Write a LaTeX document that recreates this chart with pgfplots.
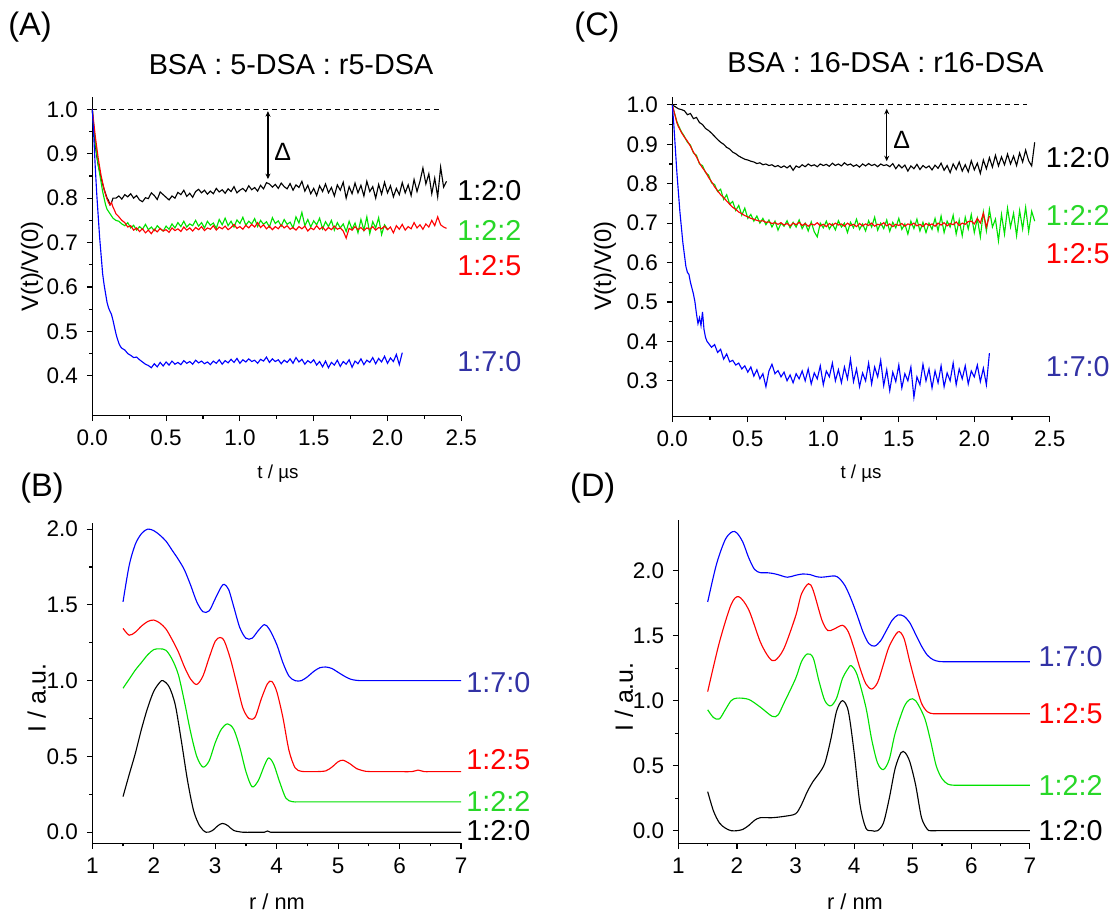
\documentclass[border=0pt]{standalone}
\usepackage{fontspec}
\setmainfont{Liberation Sans}
\usepackage{pgfplots}
\pgfplotsset{compat=1.18}
\usetikzlibrary{arrows.meta}

\definecolor{cgreen}{RGB}{0,225,0}
\definecolor{cred}{RGB}{255,0,0}
\definecolor{cblue}{RGB}{0,0,255}
\definecolor{lgreen}{RGB}{40,215,40}
\definecolor{lblue}{RGB}{50,50,165}

\newcommand{\tfont}{\fontsize{11.5}{13}\selectfont}

\pgfplotsset{
  panel/.style={
    scale only axis, anchor=south west, clip=false,
    axis x line*=bottom, axis y line*=left,
    axis line style={line width=0.5pt},
    tick align=outside, major tick length=2.2pt, minor tick length=1.2pt,
    minor tick num=1,
    every tick/.style={black, line width=0.45pt},
    tick label style={font=\fontsize{9}{10}\selectfont},
    /pgf/number format/assume math mode=true,
    yticklabel style={/pgf/number format/.cd, fixed, fixed zerofill, precision=1},
    every axis plot/.append style={line width=0.45pt},
  },
}
\tikzset{curvelabel/.style={anchor=west, inner sep=0pt, font=\tfont}}

\begin{document}
\begin{tikzpicture}
\path[use as bounding box] (0pt,0pt) rectangle (446.8pt,366pt);

% ---------------- (A)
\begin{axis}[panel, at={(36.92pt,199.72pt)}, width=147.6pt, height=127.3pt,
  xmin=0, xmax=2.5, ymin=0.31, ymax=1.027,
  xtick={0,0.5,1,1.5,2,2.5}, ytick={0.4,0.5,0.6,0.7,0.8,0.9,1.0},
  xticklabel style={/pgf/number format/.cd, fixed, fixed zerofill, precision=1}]
\addplot[black, dash pattern=on 1.8pt off 1.8pt] coordinates {(0,1)(2.36,1)};
\addplot[black, sharp plot] coordinates {
(0,1.0)(0.01,0.955)(0.02,0.92)(0.03,0.895)(0.04,0.875)(0.05,0.86)(0.06,0.845)(0.07,0.832)
(0.08,0.82)(0.09,0.81)(0.10,0.80)(0.11,0.795)(0.12,0.785)(0.13,0.79)(0.14,0.80)
(0.16,0.800)(0.18,0.805)(0.20,0.798)(0.22,0.808)(0.24,0.803)(0.26,0.810)(0.28,0.800)(0.30,0.806)
(0.32,0.796)(0.34,0.792)(0.36,0.801)(0.38,0.799)(0.40,0.812)(0.42,0.806)(0.44,0.797)(0.46,0.814)
(0.48,0.808)(0.50,0.802)(0.52,0.796)(0.54,0.805)(0.56,0.800)(0.58,0.813)(0.60,0.808)(0.62,0.818)
(0.64,0.804)(0.66,0.811)(0.68,0.802)(0.70,0.815)(0.72,0.820)(0.74,0.812)(0.76,0.818)(0.78,0.809)
(0.80,0.816)(0.82,0.810)(0.84,0.822)(0.86,0.814)(0.88,0.819)(0.90,0.811)(0.92,0.821)(0.94,0.815)
(0.96,0.826)(0.98,0.812)(1.00,0.818)(1.02,0.822)(1.04,0.815)(1.06,0.828)(1.08,0.819)(1.10,0.824)
(1.12,0.816)(1.14,0.829)(1.16,0.821)(1.18,0.835)(1.20,0.832)(1.22,0.825)(1.24,0.831)(1.26,0.822)
(1.28,0.834)(1.30,0.826)(1.32,0.821)(1.34,0.833)(1.36,0.818)(1.38,0.830)(1.40,0.824)(1.42,0.838)
(1.44,0.816)(1.46,0.829)(1.48,0.810)(1.50,0.822)(1.52,0.806)(1.54,0.828)(1.56,0.815)(1.58,0.832)
(1.60,0.812)(1.62,0.824)(1.64,0.805)(1.66,0.830)(1.68,0.818)(1.70,0.836)(1.72,0.800)(1.74,0.826)
(1.76,0.810)(1.78,0.834)(1.80,0.812)(1.82,0.829)(1.84,0.805)(1.86,0.838)(1.88,0.815)(1.90,0.826)
(1.92,0.800)(1.94,0.831)(1.96,0.809)(1.98,0.836)(2.00,0.812)(2.02,0.828)(2.04,0.803)(2.06,0.822)
(2.08,0.808)(2.10,0.835)(2.12,0.812)(2.14,0.830)(2.16,0.806)(2.18,0.842)(2.20,0.815)(2.22,0.838)
(2.24,0.868)(2.26,0.832)(2.28,0.855)(2.30,0.810)(2.32,0.845)(2.34,0.803)(2.36,0.870)(2.38,0.825)
(2.40,0.838)};
\addplot[cgreen, sharp plot] coordinates {
(0,1.0)(0.01,0.96)(0.02,0.93)(0.03,0.90)(0.04,0.875)(0.05,0.855)(0.06,0.835)(0.07,0.815)
(0.08,0.80)(0.09,0.785)(0.10,0.775)(0.12,0.765)(0.14,0.755)(0.16,0.75)(0.18,0.748)(0.20,0.742)
(0.22,0.738)(0.24,0.745)(0.26,0.733)(0.28,0.739)(0.30,0.728)(0.32,0.736)(0.34,0.730)(0.36,0.741)
(0.38,0.729)(0.40,0.735)(0.42,0.727)(0.44,0.738)(0.46,0.731)(0.48,0.726)(0.50,0.737)(0.52,0.730)
(0.54,0.742)(0.56,0.733)(0.58,0.745)(0.60,0.736)(0.62,0.748)(0.64,0.735)(0.66,0.742)(0.68,0.738)
(0.70,0.750)(0.72,0.737)(0.74,0.745)(0.76,0.733)(0.78,0.748)(0.80,0.739)(0.82,0.744)(0.84,0.732)
(0.86,0.752)(0.88,0.740)(0.90,0.755)(0.92,0.738)(0.94,0.748)(0.96,0.735)(0.98,0.751)(1.00,0.743)
(1.02,0.757)(1.04,0.739)(1.06,0.748)(1.08,0.742)(1.10,0.754)(1.12,0.736)(1.14,0.750)(1.16,0.741)
(1.18,0.747)(1.20,0.735)(1.22,0.756)(1.24,0.743)(1.26,0.749)(1.28,0.737)(1.30,0.752)(1.32,0.741)
(1.34,0.746)(1.36,0.733)(1.38,0.758)(1.40,0.744)(1.42,0.768)(1.44,0.738)(1.46,0.752)(1.48,0.735)
(1.50,0.749)(1.52,0.740)(1.54,0.755)(1.56,0.731)(1.58,0.747)(1.60,0.736)(1.62,0.750)(1.64,0.728)
(1.66,0.745)(1.68,0.733)(1.70,0.742)(1.72,0.725)(1.74,0.748)(1.76,0.730)(1.78,0.744)(1.80,0.722)
(1.82,0.752)(1.84,0.728)(1.86,0.758)(1.88,0.720)(1.90,0.747)(1.92,0.733)(1.94,0.756)(1.96,0.718)
(1.98,0.740)(2.00,0.730)};
\addplot[cred, sharp plot] coordinates {
(0,1.0)(0.01,0.97)(0.02,0.94)(0.03,0.915)(0.04,0.89)(0.05,0.87)(0.06,0.85)(0.07,0.835)
(0.08,0.82)(0.09,0.808)(0.10,0.798)(0.11,0.79)(0.12,0.785)(0.13,0.79)(0.14,0.78)(0.15,0.773)
(0.16,0.765)(0.18,0.758)(0.20,0.75)(0.22,0.745)(0.24,0.735)(0.26,0.738)(0.28,0.728)
(0.30,0.733)(0.32,0.725)(0.34,0.731)(0.36,0.722)(0.38,0.728)(0.40,0.720)(0.42,0.730)(0.44,0.724)
(0.46,0.732)(0.48,0.726)(0.50,0.729)(0.52,0.723)(0.54,0.733)(0.56,0.727)(0.58,0.731)(0.60,0.725)
(0.62,0.735)(0.64,0.728)(0.66,0.733)(0.68,0.726)(0.70,0.734)(0.72,0.729)(0.74,0.736)(0.76,0.727)
(0.78,0.733)(0.80,0.730)(0.82,0.738)(0.84,0.728)(0.86,0.735)(0.88,0.731)(0.90,0.737)(0.92,0.729)
(0.94,0.734)(0.96,0.741)(0.98,0.732)(1.00,0.736)(1.02,0.730)(1.04,0.739)(1.06,0.733)(1.08,0.741)
(1.10,0.735)(1.12,0.745)(1.14,0.734)(1.16,0.740)(1.18,0.731)(1.20,0.737)(1.22,0.729)(1.24,0.736)
(1.26,0.731)(1.28,0.740)(1.30,0.733)(1.32,0.738)(1.34,0.730)(1.36,0.734)(1.38,0.728)(1.40,0.736)
(1.42,0.731)(1.44,0.737)(1.46,0.726)(1.48,0.733)(1.50,0.729)(1.52,0.738)(1.54,0.730)(1.56,0.735)
(1.58,0.727)(1.60,0.734)(1.62,0.729)(1.64,0.737)(1.66,0.730)(1.68,0.733)(1.70,0.726)(1.72,0.710)
(1.74,0.732)(1.76,0.728)(1.78,0.736)(1.80,0.729)(1.82,0.734)(1.84,0.727)(1.86,0.733)(1.88,0.730)
(1.90,0.736)(1.92,0.728)(1.94,0.734)(1.96,0.731)(1.98,0.737)(2.00,0.729)(2.02,0.735)(2.04,0.722)
(2.06,0.738)(2.08,0.730)(2.10,0.741)(2.12,0.728)(2.14,0.736)(2.16,0.731)(2.18,0.745)(2.20,0.733)
(2.22,0.740)(2.24,0.730)(2.26,0.742)(2.28,0.735)(2.30,0.750)(2.32,0.738)(2.34,0.758)(2.36,0.740)
(2.38,0.735)(2.40,0.732)};
\addplot[cblue, sharp plot] coordinates {
(0,1.0)(0.01,0.94)(0.02,0.87)(0.03,0.81)(0.04,0.76)(0.05,0.71)(0.06,0.67)(0.07,0.63)
(0.08,0.605)(0.09,0.585)(0.10,0.565)(0.11,0.553)(0.12,0.545)(0.13,0.538)(0.14,0.525)(0.15,0.51)
(0.16,0.495)(0.17,0.483)(0.18,0.473)(0.19,0.466)(0.20,0.462)(0.22,0.458)(0.24,0.45)(0.26,0.446)
(0.28,0.441)(0.30,0.442)(0.32,0.436)(0.34,0.431)(0.36,0.426)(0.38,0.423)
(0.40,0.418)(0.42,0.427)(0.44,0.420)(0.46,0.430)(0.48,0.422)(0.50,0.431)(0.52,0.424)(0.54,0.433)
(0.56,0.426)(0.58,0.430)(0.60,0.425)(0.62,0.434)(0.64,0.428)(0.66,0.432)(0.68,0.426)(0.70,0.435)
(0.72,0.429)(0.74,0.433)(0.76,0.427)(0.78,0.431)(0.80,0.425)(0.82,0.433)(0.84,0.428)(0.86,0.436)
(0.88,0.426)(0.90,0.434)(0.92,0.429)(0.94,0.437)(0.96,0.430)(0.98,0.439)(1.00,0.428)(1.02,0.436)
(1.04,0.431)(1.06,0.438)(1.08,0.432)(1.10,0.435)(1.12,0.428)(1.14,0.437)(1.16,0.433)(1.18,0.442)
(1.20,0.430)(1.22,0.438)(1.24,0.432)(1.26,0.436)(1.28,0.427)(1.30,0.435)(1.32,0.430)(1.34,0.438)
(1.36,0.428)(1.38,0.441)(1.40,0.431)(1.42,0.437)(1.44,0.426)(1.46,0.434)(1.48,0.429)(1.50,0.436)
(1.52,0.424)(1.54,0.432)(1.56,0.420)(1.58,0.433)(1.60,0.418)(1.62,0.430)(1.64,0.424)(1.66,0.435)
(1.68,0.421)(1.70,0.432)(1.72,0.426)(1.74,0.436)(1.76,0.419)(1.78,0.433)(1.80,0.427)(1.82,0.438)
(1.84,0.425)(1.86,0.435)(1.88,0.430)(1.90,0.441)(1.92,0.427)(1.94,0.439)(1.96,0.431)(1.98,0.444)
(2.00,0.428)(2.02,0.440)(2.04,0.432)(2.06,0.448)(2.08,0.425)(2.10,0.452)};
\draw[black, line width=0.5pt, {Stealth[length=2.2pt,width=2pt]}-{Stealth[length=2.2pt,width=2pt]}]
  (axis cs:1.19,0.996) -- (axis cs:1.19,0.843);
\node[font=\fontsize{10}{12}\selectfont] at (axis cs:1.29,0.904) {Δ};
\node[curvelabel, black]  at (axis cs:2.47,0.816) {1:2:0};
\node[curvelabel, lgreen] at (axis cs:2.47,0.727) {1:2:2};
\node[curvelabel, cred]   at (axis cs:2.47,0.649) {1:2:5};
\node[curvelabel, lblue]  at (axis cs:2.47,0.432) {1:7:0};
\end{axis}

% ---------------- (C)
\begin{axis}[panel, at={(268.92pt,199.32pt)}, width=151pt, height=127.9pt,
  xmin=0, xmax=2.5, ymin=0.209, ymax=1.02,
  xtick={0,0.5,1,1.5,2,2.5}, ytick={0.3,0.4,0.5,0.6,0.7,0.8,0.9,1.0},
  xticklabel style={/pgf/number format/.cd, fixed, fixed zerofill, precision=1}]
\addplot[black, dash pattern=on 1.8pt off 1.8pt] coordinates {(0,1)(2.35,1)};
\addplot[black, sharp plot] coordinates {
(0,1.0)(0.02,0.995)(0.04,0.99)(0.06,0.988)(0.08,0.985)
(0.10,0.975)(0.12,0.978)(0.14,0.965)(0.16,0.968)(0.18,0.955)(0.20,0.950)(0.22,0.940)(0.24,0.935)
(0.26,0.928)(0.28,0.920)(0.30,0.912)(0.32,0.905)(0.34,0.900)(0.36,0.892)(0.38,0.888)(0.40,0.880)
(0.42,0.876)(0.44,0.870)(0.46,0.866)(0.48,0.862)(0.50,0.860)(0.52,0.857)(0.54,0.855)(0.56,0.851)
(0.58,0.853)(0.60,0.848)(0.62,0.850)(0.64,0.846)(0.66,0.848)(0.68,0.843)(0.70,0.846)(0.72,0.841)
(0.74,0.845)(0.76,0.840)(0.78,0.846)(0.80,0.834)(0.82,0.845)(0.84,0.841)(0.86,0.848)(0.88,0.843)
(0.90,0.850)(0.92,0.845)(0.94,0.848)(0.96,0.843)(0.98,0.850)(1.00,0.846)(1.02,0.849)(1.04,0.844)
(1.06,0.852)(1.08,0.846)(1.10,0.850)(1.12,0.845)(1.14,0.853)(1.16,0.847)(1.18,0.850)(1.20,0.844)
(1.22,0.848)(1.24,0.842)(1.26,0.850)(1.28,0.845)(1.30,0.851)(1.32,0.846)(1.34,0.849)(1.36,0.843)
(1.38,0.850)(1.40,0.846)(1.42,0.848)(1.44,0.843)(1.46,0.851)(1.48,0.838)(1.50,0.848)(1.52,0.840)
(1.54,0.847)(1.56,0.832)(1.58,0.845)(1.60,0.838)(1.62,0.849)(1.64,0.836)(1.66,0.846)(1.68,0.840)
(1.70,0.845)(1.72,0.835)(1.74,0.847)(1.76,0.839)(1.78,0.852)(1.80,0.834)(1.82,0.846)(1.84,0.828)
(1.86,0.850)(1.88,0.836)(1.90,0.855)(1.92,0.832)(1.94,0.848)(1.96,0.830)(1.98,0.858)(2.00,0.835)
(2.02,0.852)(2.04,0.826)(2.06,0.860)(2.08,0.838)(2.10,0.866)(2.12,0.842)(2.14,0.872)(2.16,0.845)
(2.18,0.868)(2.20,0.848)(2.22,0.875)(2.24,0.850)(2.26,0.870)(2.28,0.846)(2.30,0.878)(2.32,0.855)
(2.34,0.885)(2.36,0.858)(2.38,0.845)(2.40,0.905)};
\addplot[cgreen, sharp plot] coordinates {
(0,1.0)(0.01,0.985)(0.02,0.972)(0.03,0.958)(0.04,0.948)(0.05,0.94)(0.06,0.932)(0.08,0.92)(0.10,0.905)
(0.12,0.898)(0.14,0.878)(0.16,0.872)(0.18,0.850)(0.20,0.846)(0.22,0.828)(0.24,0.822)(0.26,0.802)
(0.28,0.798)(0.30,0.780)(0.32,0.786)(0.34,0.760)(0.36,0.772)(0.38,0.748)(0.40,0.755)(0.42,0.732)
(0.44,0.745)(0.46,0.720)(0.48,0.738)(0.50,0.712)(0.52,0.722)(0.54,0.705)(0.56,0.718)(0.58,0.700)
(0.60,0.712)(0.62,0.696)(0.64,0.708)(0.66,0.690)(0.68,0.705)(0.70,0.682)(0.72,0.700)(0.74,0.692)
(0.76,0.706)(0.78,0.688)(0.80,0.702)(0.82,0.690)(0.84,0.708)(0.86,0.686)(0.88,0.700)(0.90,0.680)
(0.92,0.703)(0.94,0.678)(0.96,0.665)(0.98,0.700)(1.00,0.688)(1.02,0.705)(1.04,0.685)(1.06,0.698)
(1.08,0.683)(1.10,0.706)(1.12,0.690)(1.14,0.700)(1.16,0.676)(1.18,0.702)(1.20,0.688)(1.22,0.710)
(1.24,0.684)(1.26,0.698)(1.28,0.680)(1.30,0.706)(1.32,0.690)(1.34,0.715)(1.36,0.682)(1.38,0.700)
(1.40,0.686)(1.42,0.708)(1.44,0.679)(1.46,0.702)(1.48,0.688)(1.50,0.712)(1.52,0.684)(1.54,0.698)
(1.56,0.672)(1.58,0.705)(1.60,0.686)(1.62,0.710)(1.64,0.680)(1.66,0.702)(1.68,0.676)(1.70,0.700)
(1.72,0.684)(1.74,0.712)(1.76,0.680)(1.78,0.718)(1.80,0.676)(1.82,0.705)(1.84,0.690)(1.86,0.720)
(1.88,0.672)(1.90,0.708)(1.92,0.668)(1.94,0.715)(1.96,0.685)(1.98,0.722)(2.00,0.676)(2.02,0.712)
(2.04,0.665)(2.06,0.728)(2.08,0.680)(2.10,0.735)(2.12,0.690)(2.14,0.710)(2.16,0.655)(2.18,0.722)
(2.20,0.672)(2.22,0.738)(2.24,0.690)(2.26,0.725)(2.28,0.668)(2.30,0.732)(2.32,0.685)(2.34,0.740)
(2.36,0.678)(2.38,0.730)(2.40,0.705)};
\addplot[cred, sharp plot] coordinates {
(0,1.0)(0.01,0.985)(0.02,0.97)(0.03,0.955)(0.04,0.945)(0.05,0.938)(0.06,0.93)(0.08,0.918)(0.10,0.908)
(0.12,0.895)(0.14,0.880)(0.16,0.868)(0.18,0.852)(0.20,0.840)(0.22,0.830)(0.24,0.816)(0.26,0.805)
(0.28,0.792)(0.30,0.782)(0.32,0.772)(0.34,0.765)(0.36,0.756)(0.38,0.748)(0.40,0.740)(0.42,0.735)
(0.44,0.728)(0.46,0.724)(0.48,0.719)(0.50,0.716)(0.52,0.712)(0.54,0.710)(0.56,0.707)(0.58,0.705)
(0.60,0.706)(0.62,0.702)(0.64,0.703)(0.66,0.699)(0.68,0.701)
(0.70,0.697)(0.72,0.701)(0.74,0.695)(0.76,0.699)(0.78,0.693)(0.80,0.700)(0.82,0.696)(0.84,0.702)
(0.86,0.694)(0.88,0.699)(0.90,0.692)(0.92,0.698)(0.94,0.695)(0.96,0.701)(0.98,0.693)(1.00,0.697)
(1.02,0.691)(1.04,0.699)(1.06,0.694)(1.08,0.700)(1.10,0.695)(1.12,0.698)(1.14,0.692)(1.16,0.700)
(1.18,0.694)(1.20,0.697)(1.22,0.691)(1.24,0.699)(1.26,0.693)(1.28,0.698)(1.30,0.694)(1.32,0.700)
(1.34,0.692)(1.36,0.697)(1.38,0.695)(1.40,0.701)(1.42,0.693)(1.44,0.698)(1.46,0.691)(1.48,0.697)
(1.50,0.694)(1.52,0.699)(1.54,0.692)(1.56,0.698)(1.58,0.695)(1.60,0.700)(1.62,0.693)(1.64,0.697)
(1.66,0.691)(1.68,0.699)(1.70,0.694)(1.72,0.698)(1.74,0.692)(1.76,0.700)(1.78,0.695)(1.80,0.701)
(1.82,0.693)(1.84,0.699)(1.86,0.696)(1.88,0.703)(1.90,0.694)(1.92,0.700)(1.94,0.697)(1.96,0.704)
(1.98,0.705)(2.00,0.698)(2.02,0.712)(2.04,0.700)(2.06,0.725)(2.08,0.690)(2.10,0.718)};
\addplot[cblue, sharp plot] coordinates {
(0,1.0)(0.01,0.95)(0.02,0.89)(0.03,0.83)(0.04,0.78)(0.05,0.73)(0.06,0.69)(0.07,0.65)(0.08,0.62)
(0.09,0.59)(0.10,0.575)(0.11,0.57)(0.12,0.55)(0.13,0.535)(0.14,0.52)(0.15,0.50)(0.16,0.47)
(0.17,0.445)(0.18,0.46)(0.19,0.44)(0.20,0.475)(0.21,0.43)(0.22,0.41)(0.23,0.40)
(0.24,0.395)(0.26,0.385)(0.28,0.392)(0.30,0.372)(0.32,0.380)(0.34,0.355)(0.36,0.368)(0.38,0.348)
(0.40,0.352)(0.42,0.340)(0.44,0.345)(0.46,0.330)(0.48,0.338)(0.50,0.322)(0.52,0.335)(0.54,0.312)
(0.56,0.328)(0.58,0.305)(0.60,0.318)(0.62,0.285)(0.64,0.325)(0.66,0.342)(0.68,0.318)(0.70,0.326)
(0.72,0.310)(0.74,0.322)(0.76,0.300)(0.78,0.315)(0.80,0.295)(0.82,0.318)(0.84,0.305)(0.86,0.325)
(0.88,0.300)(0.90,0.330)(0.92,0.292)(0.94,0.320)(0.96,0.305)(0.98,0.338)(1.00,0.290)(1.02,0.325)
(1.04,0.310)(1.06,0.345)(1.08,0.300)(1.10,0.328)(1.12,0.295)(1.14,0.335)(1.16,0.305)(1.18,0.355)
(1.20,0.298)(1.22,0.330)(1.24,0.285)(1.26,0.320)(1.28,0.300)(1.30,0.345)(1.32,0.292)(1.34,0.335)
(1.36,0.310)(1.38,0.352)(1.40,0.288)(1.42,0.328)(1.44,0.275)(1.46,0.322)(1.48,0.298)(1.50,0.340)
(1.52,0.282)(1.54,0.318)(1.56,0.300)(1.58,0.335)(1.60,0.258)(1.62,0.310)(1.64,0.290)(1.66,0.342)
(1.68,0.300)(1.70,0.330)(1.72,0.282)(1.74,0.325)(1.76,0.295)(1.78,0.338)(1.80,0.285)(1.82,0.320)
(1.84,0.300)(1.86,0.345)(1.88,0.290)(1.90,0.330)(1.92,0.305)(1.94,0.338)(1.96,0.292)(1.98,0.325)
(2.00,0.310)(2.02,0.340)(2.04,0.298)(2.06,0.332)(2.08,0.290)(2.10,0.370)};
\draw[black, line width=0.5pt, {Stealth[length=2.2pt,width=2pt]}-{Stealth[length=2.2pt,width=2pt]}]
  (axis cs:1.42,0.99) -- (axis cs:1.42,0.857);
\node[font=\fontsize{10}{12}\selectfont] at (axis cs:1.52,0.911) {Δ};
\node[curvelabel, black]  at (axis cs:2.47,0.867) {1:2:0};
\node[curvelabel, lgreen] at (axis cs:2.47,0.720) {1:2:2};
\node[curvelabel, cred]   at (axis cs:2.47,0.623) {1:2:5};
\node[curvelabel, lblue]  at (axis cs:2.47,0.335) {1:7:0};
\end{axis}

% ---------------- (B)
\begin{axis}[panel, at={(36.92pt,28.68pt)}, width=147.5pt, height=128.1pt,
  xmin=1, xmax=7, ymin=-0.073, ymax=2.04,
  xtick={1,2,3,4,5,6,7}, ytick={0,0.5,1,1.5,2}]
\addplot[black, smooth] coordinates {
(1.5,0.235)(1.6,0.38)(1.7,0.52)(1.8,0.68)(1.9,0.82)(2.0,0.93)(2.1,0.99)(2.15,1.0)(2.25,0.96)
(2.35,0.84)(2.45,0.60)(2.55,0.34)(2.65,0.14)(2.75,0.04)(2.85,0.0)(2.95,0.01)(3.05,0.045)(3.12,0.058)
(3.2,0.045)(3.3,0.012)(3.45,0.0)(3.6,0.0)(3.8,0.0)(3.85,0.008)(3.9,0.0)(4.0,0.0)(4.3,0.0)
(5,0.0)(6,0.0)(7,0.0)};
\addplot[cgreen, smooth] coordinates {
(1.5,0.95)(1.6,1.01)(1.7,1.07)(1.8,1.12)(1.9,1.17)(2.0,1.205)(2.1,1.21)(2.2,1.20)(2.3,1.14)
(2.4,1.04)(2.5,0.86)(2.6,0.66)(2.7,0.50)(2.8,0.43)(2.9,0.47)(3.0,0.59)(3.1,0.68)(3.2,0.715)
(3.3,0.68)(3.4,0.56)(3.5,0.40)(3.6,0.30)(3.7,0.34)(3.8,0.44)(3.87,0.49)(3.95,0.45)(4.05,0.33)
(4.15,0.225)(4.25,0.202)(4.35,0.20)(4.5,0.20)(5,0.20)(6,0.20)(7,0.20)};
\addplot[cred, smooth] coordinates {
(1.5,1.345)(1.6,1.30)(1.7,1.32)(1.8,1.36)(1.9,1.39)(2.0,1.40)(2.1,1.38)(2.2,1.34)(2.3,1.27)
(2.4,1.19)(2.5,1.09)(2.6,1.01)(2.7,0.975)(2.8,1.03)(2.9,1.15)(3.0,1.26)(3.08,1.285)(3.15,1.26)
(3.25,1.14)(3.35,0.98)(3.45,0.82)(3.55,0.75)(3.65,0.76)(3.75,0.88)(3.85,0.98)(3.92,0.995)
(4.0,0.93)(4.1,0.76)(4.2,0.54)(4.3,0.425)(4.4,0.402)(4.5,0.40)(4.65,0.40)(4.8,0.405)(4.9,0.43)
(5.0,0.465)(5.08,0.475)(5.2,0.45)(5.3,0.42)(5.45,0.402)(5.6,0.40)(5.9,0.40)(6.2,0.40)(6.3,0.41)
(6.4,0.40)(6.6,0.40)(7,0.40)};
\addplot[cblue, smooth] coordinates {
(1.5,1.52)(1.6,1.76)(1.7,1.90)(1.8,1.97)(1.9,2.0)(2.0,1.99)(2.1,1.96)(2.2,1.92)(2.3,1.86)
(2.4,1.80)(2.5,1.73)(2.6,1.63)(2.7,1.52)(2.8,1.455)(2.9,1.46)(3.0,1.54)(3.1,1.62)(3.15,1.635)
(3.22,1.60)(3.3,1.49)(3.4,1.35)(3.5,1.28)(3.6,1.28)(3.7,1.33)(3.8,1.37)(3.88,1.34)(4.0,1.24)
(4.1,1.12)(4.2,1.03)(4.3,1.0)(4.4,1.0)(4.5,1.025)(4.6,1.06)(4.7,1.085)(4.8,1.09)(4.9,1.08)
(5.0,1.055)(5.1,1.03)(5.2,1.01)(5.3,1.002)(5.4,1.0)(5.6,1.0)(6,1.0)(6.5,1.0)(7,1.0)};
\node[curvelabel, lblue]  at (axis cs:7.08,0.99) {1:7:0};
\node[curvelabel, cred]   at (axis cs:7.08,0.48) {1:2:5};
\node[curvelabel, lgreen] at (axis cs:7.08,0.20) {1:2:2};
\node[curvelabel, black]  at (axis cs:7.08,0.01) {1:2:0};
\end{axis}

% ---------------- (D)
\begin{axis}[panel, at={(271.36pt,28.68pt)}, width=140.6pt, height=129.3pt,
  xmin=1, xmax=7, ymin=-0.097, ymax=2.39,
  xtick={1,2,3,4,5,6,7}, ytick={0,0.5,1,1.5,2}]
\addplot[black, smooth] coordinates {
(1.5,0.30)(1.6,0.15)(1.7,0.06)(1.8,0.02)(1.9,0.0)(2.0,0.0)(2.1,0.01)(2.2,0.04)(2.3,0.08)
(2.4,0.10)(2.6,0.10)(2.8,0.11)(3.0,0.13)(3.1,0.20)(3.2,0.30)(3.3,0.38)(3.4,0.44)(3.5,0.52)
(3.6,0.70)(3.7,0.92)(3.8,1.0)(3.9,0.92)(4.0,0.60)(4.1,0.20)(4.2,0.02)(4.3,0.0)(4.4,0.0)
(4.5,0.06)(4.6,0.25)(4.7,0.48)(4.8,0.60)(4.87,0.60)(4.95,0.53)(5.05,0.35)(5.15,0.10)(5.25,0.01)
(5.3,0.0)(5.4,0.0)(5.6,0.0)(6,0.0)(6.5,0.0)(7,0.0)};
\addplot[cgreen, smooth] coordinates {
(1.5,0.93)(1.6,0.87)(1.7,0.86)(1.8,0.93)(1.9,1.00)(2.0,1.02)(2.2,1.01)(2.4,0.95)(2.6,0.88)
(2.7,0.89)(2.8,0.98)(3.0,1.17)(3.1,1.30)(3.2,1.36)(3.3,1.33)(3.4,1.15)(3.5,1.00)(3.6,0.96)
(3.7,1.02)(3.8,1.17)(3.9,1.25)(3.95,1.27)(4.05,1.20)(4.2,0.95)(4.3,0.70)(4.4,0.52)(4.5,0.47)
(4.6,0.55)(4.7,0.75)(4.85,0.95)(4.95,1.01)(5.05,1.0)(5.2,0.87)(5.3,0.70)(5.4,0.50)(5.5,0.40)
(5.6,0.358)(5.7,0.35)(5.85,0.35)(6.2,0.35)(6.6,0.35)(7,0.35)};
\addplot[cred, smooth] coordinates {
(1.5,1.07)(1.7,1.45)(1.9,1.74)(2.03,1.80)(2.2,1.70)(2.4,1.45)(2.55,1.33)(2.65,1.31)(2.8,1.40)
(3.0,1.65)(3.1,1.82)(3.22,1.90)(3.3,1.85)(3.45,1.62)(3.55,1.54)(3.65,1.55)(3.8,1.58)(3.9,1.53)
(4.0,1.40)(4.1,1.25)(4.2,1.13)(4.3,1.09)(4.4,1.14)(4.5,1.28)(4.6,1.42)(4.75,1.53)(4.85,1.48)
(4.95,1.30)(5.05,1.13)(5.15,0.98)(5.25,0.915)(5.35,0.90)(5.5,0.90)(5.8,0.90)(6.3,0.90)(7,0.90)};
\addplot[cblue, smooth] coordinates {
(1.5,1.76)(1.65,2.05)(1.8,2.24)(1.92,2.30)(2.0,2.29)(2.1,2.22)(2.2,2.10)(2.3,2.01)(2.4,1.985)
(2.5,1.985)(2.6,1.98)(2.7,1.97)(2.86,1.95)(3.0,1.965)(3.12,1.975)(3.25,1.97)(3.35,1.955)
(3.44,1.95)(3.55,1.955)(3.67,1.96)(3.75,1.94)(3.85,1.88)(3.95,1.78)(4.05,1.66)(4.15,1.53)
(4.25,1.44)(4.35,1.42)(4.45,1.46)(4.55,1.54)(4.65,1.62)(4.75,1.66)(4.85,1.65)(4.95,1.60)
(5.05,1.51)(5.15,1.42)(5.25,1.35)(5.35,1.315)(5.45,1.302)(5.55,1.30)(5.8,1.30)(6.3,1.30)(7,1.30)};
\node[curvelabel, lblue]  at (axis cs:7.14,1.34) {1:7:0};
\node[curvelabel, cred]   at (axis cs:7.14,0.90) {1:2:5};
\node[curvelabel, lgreen] at (axis cs:7.14,0.35) {1:2:2};
\node[curvelabel, black]  at (axis cs:7.14,0.00) {1:2:0};
\end{axis}

% ---------------- texts
\node[font=\fontsize{13}{15}\selectfont] at (12pt,355.2pt) {(A)};
\node[font=\fontsize{13}{15}\selectfont] at (238.8pt,355.2pt) {(C)};
\node[font=\fontsize{13}{15}\selectfont] at (16.8pt,170.8pt) {(B)};
\node[font=\fontsize{13}{15}\selectfont] at (237.1pt,170.8pt) {(D)};
\node[font=\tfont] at (116.4pt,340pt) {BSA : 5-DSA : r5-DSA};
\node[font=\tfont] at (354.2pt,340.8pt) {BSA : 16-DSA : r16-DSA};
\node[font=\fontsize{7.5}{9}\selectfont] at (111.2pt,176.4pt) {t / µs};
\node[font=\fontsize{7.5}{9}\selectfont] at (344.4pt,176.4pt) {t / µs};
\node[font=\fontsize{8.7}{10}\selectfont] at (110.8pt,5.2pt) {r / nm};
\node[font=\fontsize{8.7}{10}\selectfont] at (342pt,5.2pt) {r / nm};
\node[font=\fontsize{9.5}{11}\selectfont, rotate=90] at (12.8pt,259.4pt) {V(t)/V(0)};
\node[font=\fontsize{9.5}{11}\selectfont, rotate=90] at (242pt,259.6pt) {V(t)/V(0)};
\node[font=\fontsize{10}{12}\selectfont, rotate=90] at (14.7pt,86.8pt) {I / a.u.};
\node[font=\fontsize{10}{12}\selectfont, rotate=90] at (249.6pt,87.2pt) {I / a.u.};
\end{tikzpicture}
\end{document}
